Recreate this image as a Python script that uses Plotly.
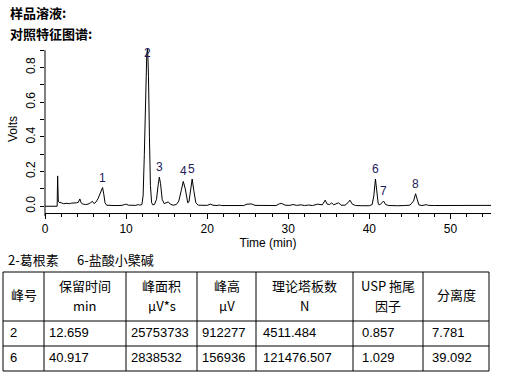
import plotly.graph_objects as go

# ---------------- data ----------------
time_min = [0.0, 1.50, 1.53, 1.56, 1.60, 1.64, 1.75, 2.0, 2.3, 2.6, 3.0, 3.3, 3.6, 3.9, 4.1, 4.3, 4.45,
            4.7, 5.0, 5.3, 5.6, 5.85, 6.05, 6.3, 6.55, 6.75, 6.95, 7.1, 7.25, 7.4, 7.6, 8.0, 8.5, 9.0,
            9.5, 9.8, 10.0, 10.3, 10.8, 11.2, 11.5, 11.7, 11.95, 12.1, 12.25, 12.4, 12.55, 12.66, 12.76,
            12.88, 13.0, 13.15, 13.3, 13.5, 13.75, 13.95, 14.1, 14.25, 14.45, 14.7, 15.0, 15.2, 15.45,
            15.8, 16.2, 16.5, 16.8, 17.05, 17.3, 17.6, 17.75, 17.95, 18.15, 18.35, 18.6, 18.9, 19.5,
            20.0, 20.4, 20.7, 21.2, 21.5, 21.8, 23.0, 24.5, 24.9, 25.5, 25.9, 27.0, 28.5, 28.9, 29.2,
            29.6, 30.2, 30.6, 31.0, 31.6, 32.0, 32.5, 33.0, 33.6, 33.9, 34.2, 34.55, 34.8, 35.1, 35.35,
            35.6, 35.9, 36.2, 36.5, 37.0, 37.4, 37.6, 37.9, 38.3, 39.0, 40.0, 40.35, 40.55, 40.75,
            40.95, 41.1, 41.3, 41.55, 41.75, 42.0, 42.4, 43.5, 44.0, 44.3, 45.0, 45.25, 45.45, 45.7,
            45.9, 46.1, 46.5, 47.0, 47.3, 48.0, 55.0]
volts = [0.0, 0.0, 0.10, 0.175, 0.10, 0.03, 0.022, 0.02, 0.014, 0.017, 0.015, 0.018, 0.017, 0.02,
         0.022, 0.042, 0.02, 0.012, 0.01, 0.012, 0.02, 0.028, 0.015, 0.025, 0.045, 0.065, 0.095, 0.108,
         0.07, 0.02, 0.006, 0.004, 0.004, 0.004, 0.005, 0.01, 0.012, 0.006, 0.004, 0.005, 0.01, 0.006,
         0.01, 0.06, 0.3, 0.6, 0.88, 0.912, 0.75, 0.4, 0.12, 0.02, 0.008, 0.01, 0.04, 0.12, 0.168,
         0.13, 0.04, 0.015, 0.02, 0.025, 0.012, 0.006, 0.01, 0.03, 0.09, 0.143, 0.1, 0.02, 0.025,
         0.11, 0.157, 0.09, 0.02, 0.006, 0.005, 0.005, 0.012, 0.006, 0.004, 0.007, 0.004, 0.004,
         0.004, 0.012, 0.013, 0.005, 0.003, 0.004, 0.014, 0.016, 0.006, 0.005, 0.01, 0.005, 0.008,
         0.004, 0.007, 0.004, 0.012, 0.01, 0.008, 0.035, 0.012, 0.01, 0.02, 0.008, 0.012, 0.02,
         0.006, 0.006, 0.022, 0.035, 0.012, 0.004, 0.003, 0.003, 0.01, 0.06, 0.157, 0.09, 0.012,
         0.008, 0.02, 0.03, 0.01, 0.004, 0.003, 0.006, 0.004, 0.006, 0.018, 0.03, 0.072, 0.04,
         0.008, 0.004, 0.009, 0.005, 0.004, 0.005]

peak_labels = ["1", "2", "3", "4", "5", "6", "7", "8"]
peak_times = [7.15, 12.66, 14.12, 17.05, 18.12, 40.72, 41.72, 45.68]
peak_heights = [0.108, 0.912, 0.168, 0.143, 0.157, 0.157, 0.030, 0.072]

y_tick_vals = [0.0, 0.1, 0.2, 0.3, 0.4, 0.5, 0.6, 0.7, 0.8, 0.9]
y_tick_text = ["0.0", "", "0.2", "", "0.4", "", "0.6", "", "0.8", ""]
x_tick_vals = [0, 10, 20, 30, 40, 50]
x_tick_text = ["0", "10", "20", "30", "40", "50"]

title_lines = ["样品溶液:", "对照特征图谱:"]
caption_parts = ["2-葛根素", "6-盐酸小檗碱"]

header_top = ["峰号", "保留时间", "峰面积", "峰高", "理论塔板数", "USP 拖尾", "分离度"]
header_bottom = ["", "min", "μV*s", "μV", "N", "因子", ""]
col_peak = ["2", "6"]
col_rt = ["12.659", "40.917"]
col_area = ["25753733", "2838532"]
col_height = ["912277", "156936"]
col_plates = ["4511.484", "121476.507"]
col_tailing = ["0.857", "1.029"]
col_resolution = ["7.781", "39.092"]

# ---------------- layout geometry (pixels) ----------------
W, H = 507, 379
ML, MR, MT, MB = 45, 16, 45, 166
PW, PH = W - ML - MR, H - MT - MB


def px2x(px):
    return (px - ML) / PW


def px2y(py):
    return (H - MB - py) / PH


FONT = "Liberation Sans, Arial, Noto Sans CJK SC"
CJK = "Noto Sans CJK SC, Liberation Sans"

fig = go.Figure()
fig.add_trace(go.Scatter(x=time_min, y=volts, mode="lines",
                         line=dict(color="black", width=1), hoverinfo="skip",
                         showlegend=False))

annotations = []
label_color = "#1c1c5c"
for lab, t, v in zip(peak_labels, peak_times, peak_heights):
    shift = 1 if lab != "2" else -14
    annotations.append(dict(x=t, y=v, xref="x", yref="y", text=lab, showarrow=False,
                            xanchor="center", yanchor="bottom", yshift=shift,
                            font=dict(family=FONT, size=12, color=label_color)))

# titles
for i, txt in enumerate(title_lines):
    annotations.append(dict(x=px2x(8), y=px2y(12 + i * 21.5), xref="paper", yref="paper",
                            text="<b>" + txt + "</b>", showarrow=False,
                            xanchor="left", yanchor="middle",
                            font=dict(family=CJK, size=13, color="black")))

# caption
for txt, px in zip(caption_parts, [6, 75]):
    annotations.append(dict(x=px2x(px), y=px2y(259), xref="paper", yref="paper",
                            text=txt, showarrow=False, xanchor="left", yanchor="middle",
                            font=dict(family=CJK, size=13, color="black")))

# table
col_edges = [3, 44, 126, 197, 256, 353, 423, 489]
row_edges = [272, 321, 346, 371]
shapes = []
for cx in col_edges:
    shapes.append(dict(type="line", xref="paper", yref="paper",
                       x0=px2x(cx), x1=px2x(cx), y0=px2y(row_edges[0]), y1=px2y(row_edges[-1]),
                       line=dict(color="black", width=1)))
for ry in row_edges:
    shapes.append(dict(type="line", xref="paper", yref="paper",
                       x0=px2x(col_edges[0]), x1=px2x(col_edges[-1]), y0=px2y(ry), y1=px2y(ry),
                       line=dict(color="black", width=1)))

hdr_mid = (row_edges[0] + row_edges[1]) / 2
for i, (top, bot) in enumerate(zip(header_top, header_bottom)):
    cxm = (col_edges[i] + col_edges[i + 1]) / 2
    if bot:
        annotations.append(dict(x=px2x(cxm), y=px2y(hdr_mid - 11), xref="paper", yref="paper",
                                text=top, showarrow=False, xanchor="center", yanchor="middle",
                                font=dict(family=CJK, size=13, color="black")))
        annotations.append(dict(x=px2x(cxm), y=px2y(hdr_mid + 9), xref="paper", yref="paper",
                                text=bot, showarrow=False, xanchor="center", yanchor="middle",
                                font=dict(family=CJK, size=13, color="black")))
    else:
        annotations.append(dict(x=px2x(cxm), y=px2y(hdr_mid - 2), xref="paper", yref="paper",
                                text=top, showarrow=False, xanchor="center", yanchor="middle",
                                font=dict(family=CJK, size=13, color="black")))

columns = [col_peak, col_rt, col_area, col_height, col_plates, col_tailing, col_resolution]
pads = [6, 3.5, 3.5, 3.5, 6, 8, 8]
for ci, col in enumerate(columns):
    for ri, val in enumerate(col):
        cy = (row_edges[ri + 1] + row_edges[ri + 2]) / 2 - 1
        annotations.append(dict(x=px2x(col_edges[ci] + pads[ci] - 1), y=px2y(cy), xref="paper",
                                yref="paper", text=val, showarrow=False, xanchor="left",
                                yanchor="middle",
                                font=dict(family=FONT, size=13, color="black")))

# y axis line (from 0.9 down to x-axis)
y_lo, y_hi = -0.039, 0.93
shapes.append(dict(type="line", xref="paper", yref="paper", x0=0, x1=0,
                   y0=-3 / PH, y1=(0.9 - y_lo) / (y_hi - y_lo),
                   line=dict(color="black", width=1)))

fig.update_layout(
    width=W, height=H,
    margin=dict(l=ML, r=MR, t=MT, b=MB, pad=0),
    paper_bgcolor="white", plot_bgcolor="white",
    font=dict(family=FONT, size=12, color="black"),
    xaxis=dict(range=[0, 55], showgrid=False, zeroline=False, showline=True,
               linecolor="black", linewidth=1, ticks="outside", ticklen=5, tickwidth=1,
               tickcolor="black", tickvals=x_tick_vals, ticktext=x_tick_text,
               minor=dict(dtick=2, ticks="outside", ticklen=3, tickcolor="black", tickwidth=1,
                          showgrid=False),
               tickfont=dict(family=FONT, size=12, color="black"),
               title=dict(text="Time (min)", font=dict(family=FONT, size=12, color="black"),
                          standoff=2)),
    yaxis=dict(range=[y_lo, y_hi], showgrid=False, zeroline=False, showline=False,
               ticks="outside", ticklen=4, tickwidth=1, tickcolor="black",
               tickvals=y_tick_vals, ticktext=y_tick_text, tickangle=-90,
               tickfont=dict(family=FONT, size=12, color="black"),
               title=dict(text="Volts", font=dict(family=FONT, size=12, color="black"),
                          standoff=4)),
    annotations=annotations,
    shapes=shapes,
)

fig.write_html("out.html", config={"displayModeBar": False},
               post_script="document.body.style.margin='0';document.body.style.overflow='hidden';")
